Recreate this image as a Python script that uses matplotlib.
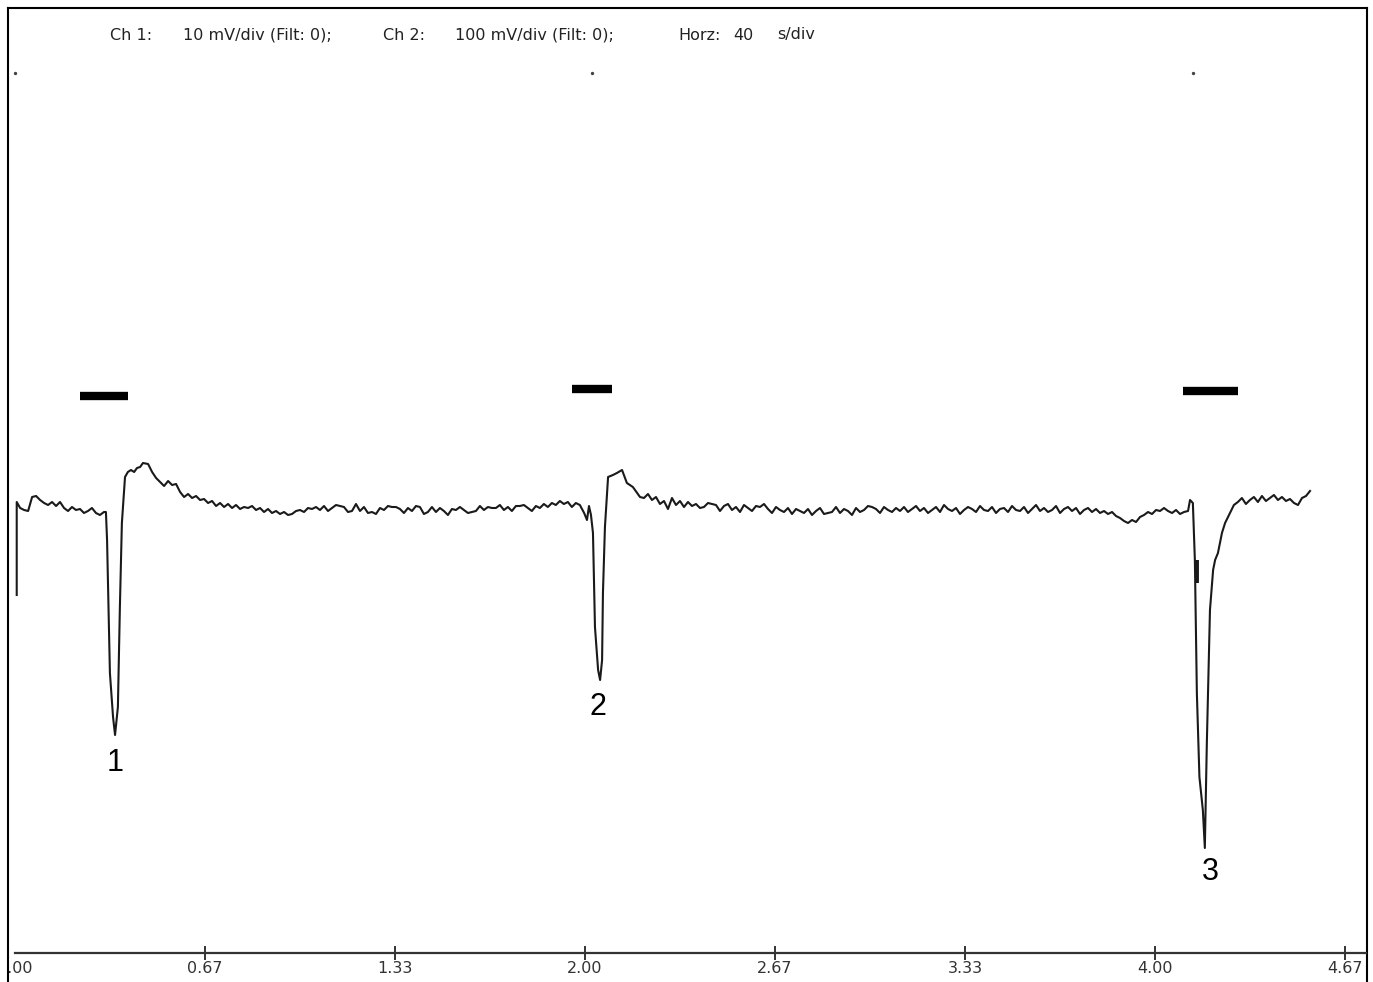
import matplotlib

matplotlib.use("Agg")
import matplotlib.pyplot as plt
import numpy as np

plt.rcParams["font.family"] = ["DejaVu Sans"]

# recording trace, time in axis units, amplitude in arbitrary units (baseline ~ 0)
start_t = [0.006, 0.006]
start_v = [-85, 8]

base1_t = np.linspace(0.018, 0.312, 22)
base1_v = [2, 0, -1, 13, 14, 10, 7, 5, 8, 4, 8, 2, -1, 3, 0, 1, -3, -1, 2, -3, -5, -2]

spike1_t = [0.319, 0.323, 0.333, 0.344, 0.351, 0.361, 0.368, 0.375, 0.386,
            0.396, 0.407, 0.418, 0.428, 0.439, 0.449]
spike1_v = [-2, -30, -163, -207, -225, -197, -97, -13, 33, 38, 40, 38, 42, 43, 47]

base2_t = np.linspace(0.467, 1.982, 109)
base2_v = [46, 38, 32,
           28, 24, 29, 25, 26,
           18, 13, 16, 12, 14, 10,
           11, 7, 9, 4, 7, 3, 6, 2,
           5, 1, 3, 2, 4, 0, 2, -2, 1, -3, -1, -4,
           -2, -5, -4, -1, 0, -2, 2, 1, 3, 0,
           4, -1, 2, 5, 4, 3, -2, -1, 6, -1, 3, -3, -2, -4, 2, 0, 4, 3, 3, 1,
           -3, 2, -1, 4, 3, -4, -2, 3, -2, 2, -1, -5, 1, 0, 3, 0, -3, -2, -1, 4,
           0, 3, 2, 2, 5, 0, 3, -1, 4, 4, 5, 2, -1, 4, 2, 6, 3, 7, 5, 9, 6, 8, 3, 7, 5]

spike2_t = [1.997, 2.007, 2.014, 2.021, 2.028, 2.035, 2.046, 2.053, 2.060,
            2.063, 2.070, 2.081, 2.098, 2.112, 2.130, 2.147, 2.168, 2.193]
spike2_v = [-3, -10, 4, -5, -23, -117, -160, -170, -150, -83, -17, 33, 35, 37,
            40, 27, 23, 13]

base3_t = np.linspace(2.207, 4.116, 137)
base3_v = [12, 16, 10, 13, 6, 9, 1, 12, 5, 9, 3, 8, 4, 6, 2,
           3, 7, 6, 5, -1, 4, 6, 0, 3, -2, 5, 2, -1, 4, 3, 6, 1, -3, 3, 0, -2, 2, -4, 1, -1,
           -3, 1, -5, -1, 2, -4, -3, -2, 3, -3, 1, -1, -5, 2, -2, 0, 4, 3, 1, -3, 3, 0, -2, 2, -1,
           3, -2, 1, 4, -1, 2, -3, 0, 3, -2, 5, 1, -1, 2, -4, 0, 3, 1, -2, 4, 0, -1, 3, -3, 1,
           2, -2, 4, 0, -1, 3, -3, 1, 5, -1, 2, -2, 0, 4, -3, 1, 3, -1, 2, -4, 0, 2, -2, 1, -3,
           -1, -4, -2, -6, -8, -11, -13, -10, -12, -7, -5, -2, -4, 0, -1, 2, -1, -3, 0, -4, -2, -1]

spike3_t = [4.123, 4.133, 4.140, 4.147, 4.156, 4.168, 4.175, 4.182, 4.193,
            4.204, 4.211, 4.221, 4.235, 4.246, 4.263, 4.277]
spike3_v = [10, 7, -50, -183, -267, -300, -338, -233, -100, -60, -50, -43, -23,
            -13, -3, 5]

base4_t = np.linspace(4.291, 4.544, 19)
base4_v = [8, 12, 6, 10, 13, 8, 14, 9, 12, 15, 10, 13, 9, 11, 7, 5, 12, 14, 19]

# small artefact on the falling edge of response 3
glitch_t = [4.147, 4.147]
glitch_v = [-50, -73]

# stimulus bars
stim_start = [0.228, 1.954, 4.098]
stim_end = [0.396, 2.095, 4.291]
stim_level = [114, 121, 119]

# response numbers
resp_labels = ["1", "2", "3"]
resp_t = [0.351, 2.046, 4.193]
resp_v = [-253, -197, -362]

# marks along the top
top_t = [0.0, 2.025, 4.133]
top_v = [437, 437, 437]

tick_vals = [0.0, 0.667, 1.333, 2.0, 2.667, 3.333, 4.0, 4.667]
tick_labels = ["0.00", "0.67", "1.33", "2.00", "2.67", "3.33", "4.00", "4.67"]

header_parts = ["Ch 1:", "10 mV/div (Filt: 0);", "Ch 2:", "100 mV/div (Filt: 0);",
                "Horz:", "40", "s/div"]
header_x = [110, 183, 383, 455, 678, 733, 777]

t = np.concatenate([start_t, base1_t, spike1_t, base2_t, spike2_t, base3_t, spike3_t, base4_t])
v = np.concatenate([start_v, base1_v, spike1_v, base2_v, spike2_v, base3_v, spike3_v, base4_v])

fig = plt.figure(figsize=(13.73, 9.82), dpi=100)
ax = fig.add_axes([8 / 1373, 0.0, 1359 / 1373, 974 / 982])
ax.set_xlim(-0.0246, 4.744)
ax.set_ylim(-472, 502)

ax.plot(t, v, color="#1a1a1a", lw=1.5)
ax.plot(glitch_t, glitch_v, color="#1a1a1a", lw=2.8, solid_capstyle="butt")
ax.hlines(stim_level, stim_start, stim_end, color="black", lw=6)
ax.scatter(top_t, top_v, s=2, color="#444444")
for lab, x, y in zip(resp_labels, resp_t, resp_v):
    ax.text(x, y, lab, ha="center", va="center", fontsize=22, family="Liberation Sans")

for side in ("left", "top", "right"):
    ax.spines[side].set_linewidth(1.5)
ax.spines["bottom"].set_position(("data", -443))
ax.spines["bottom"].set_bounds(0, 4.74)
ax.spines["bottom"].set_linewidth(1.6)
ax.spines["bottom"].set_color("#333333")
ax.set_yticks([])
ax.set_xticks(tick_vals)
ax.set_xticklabels(tick_labels)
ax.tick_params(axis="x", direction="inout", length=10, width=1.4, color="#333333",
               labelsize=11.5, pad=1, labelcolor="#333333")
ticks = ax.xaxis.get_major_ticks()
ticks[0].tick1line.set_visible(False)
for lab in ax.get_xticklabels():
    lab.set_clip_on(True)
    lab.set_clip_box(ax.bbox)

for part, x in zip(header_parts, header_x):
    fig.text(x / 1373, 1 - 35 / 982, part, fontsize=11.5, va="center", ha="left",
             color="#222222")

fig.savefig("out.png", dpi=100)
